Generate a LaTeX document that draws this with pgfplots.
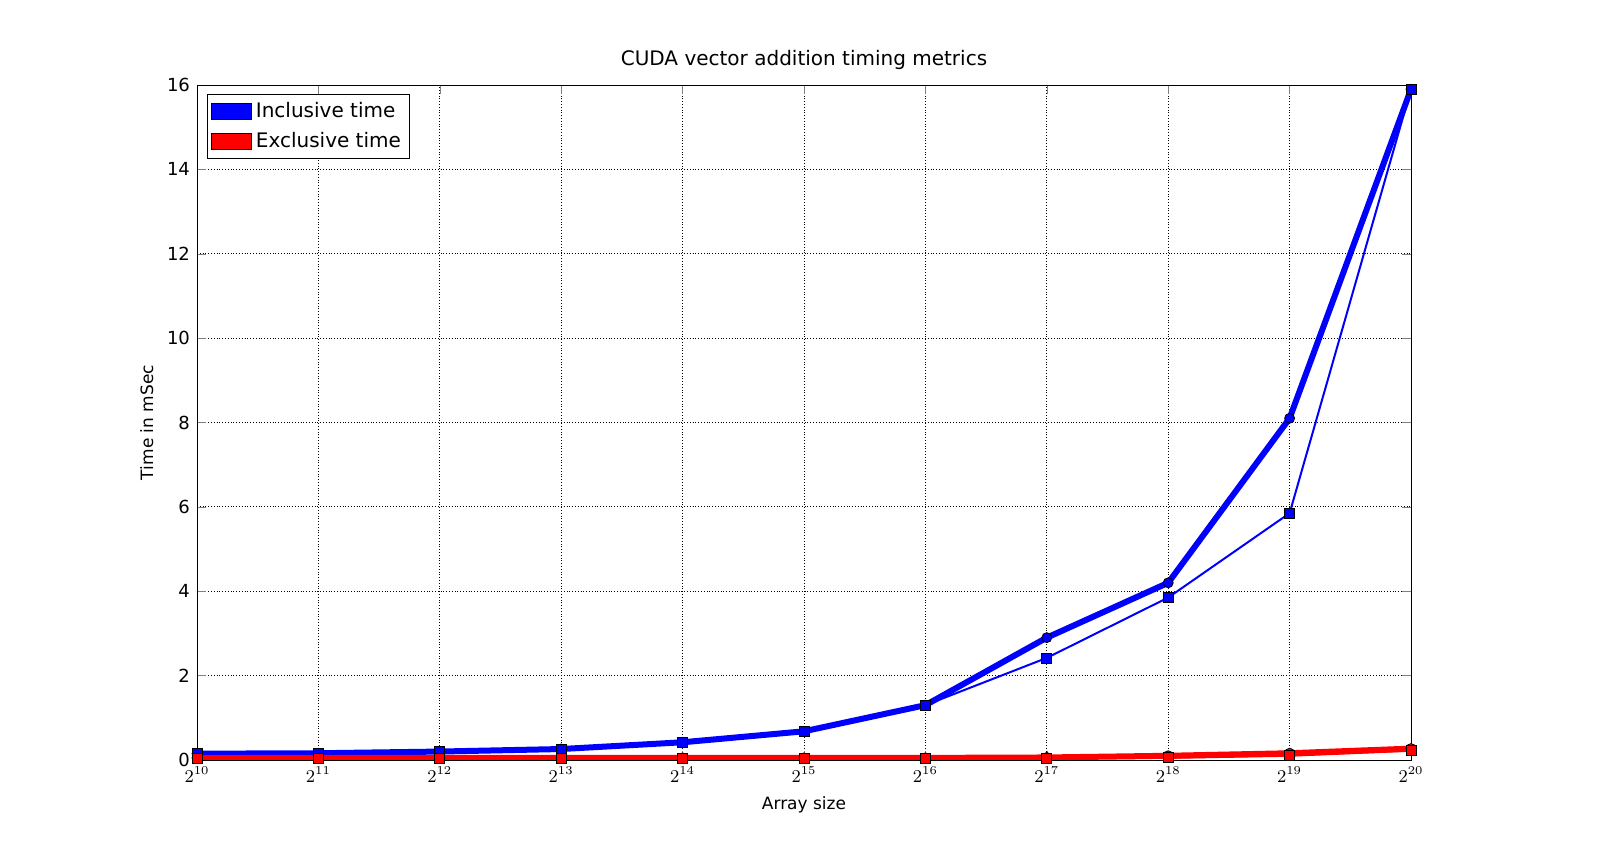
\documentclass[border=0pt]{standalone}
\usepackage{pgfplots}
\pgfplotsset{compat=1.18}
\usepackage{fontspec}
\setmainfont{DejaVu Sans}
\begin{document}
\begin{tikzpicture}[x=1pt,y=1pt]
\begin{axis}[at={(98.5pt,50.5pt)}, anchor=south west,
  scale only axis, width=607pt, height=337.5pt,
  xmin=10, xmax=20, ymin=0, ymax=16,
  xtick={10,...,20},
  xticklabels={$2^{10}$,$2^{11}$,$2^{12}$,$2^{13}$,$2^{14}$,$2^{15}$,$2^{16}$,$2^{17}$,$2^{18}$,$2^{19}$,$2^{20}$},
  ytick={0,2,...,16},
  tick align=inside, tick pos=both,
  grid=major, major grid style={black, densely dotted, line width=0.4pt},
  tick label style={font=\fontsize{9}{10}\selectfont},
  /pgf/number format/assume math mode=true,
  title={CUDA vector addition timing metrics}, title style={font=\fontsize{10}{12}\selectfont, yshift=-2pt},
  xlabel={Array size}, ylabel={Time in mSec},
  label style={font=\fontsize{8.5}{10}\selectfont},
  legend style={at={(0.008,0.987)}, anchor=north west, font=\fontsize{10}{12}\selectfont, draw=black, inner sep=2pt, row sep=2pt},
  legend cell align=left,
  legend image code/.code={\path[#1, draw=black, line width=0.4pt, fill] (0pt,-4pt) rectangle (20pt,4pt);},
]
\addplot[blue, line width=3pt, mark=*, mark size=2.5pt, mark options={draw=black, fill=blue, line width=0.4pt}] coordinates {
(10,0.15)(11,0.16)(12,0.20)(13,0.26)(14,0.42)(15,0.68)(16,1.30)(17,2.90)(18,4.20)(19,8.10)(20,15.9)};
\addlegendentry{Inclusive time}
\addplot[red, line width=3pt, mark=*, mark size=2.5pt, mark options={draw=black, fill=red, line width=0.4pt}] coordinates {
(10,0.05)(11,0.05)(12,0.05)(13,0.05)(14,0.05)(15,0.05)(16,0.05)(17,0.06)(18,0.10)(19,0.16)(20,0.27)};
\addlegendentry{Exclusive time}
\addplot[blue, line width=1pt, mark=square*, mark size=2.5pt, mark options={draw=black, fill=blue, line width=0.4pt}, forget plot] coordinates {
(10,0.15)(11,0.16)(12,0.20)(13,0.26)(14,0.42)(15,0.68)(16,1.30)(17,2.42)(18,3.85)(19,5.85)(20,15.9)};
\addplot[red, line width=1pt, mark=square*, mark size=2.5pt, mark options={draw=black, fill=red, line width=0.4pt}, forget plot] coordinates {
(10,0.04)(11,0.04)(12,0.04)(13,0.04)(14,0.04)(15,0.04)(16,0.04)(17,0.04)(18,0.05)(19,0.10)(20,0.22)};
\end{axis}
\pgfresetboundingbox
\path[use as bounding box] (0,0) rectangle (800,430.5);
\end{tikzpicture}
\end{document}
